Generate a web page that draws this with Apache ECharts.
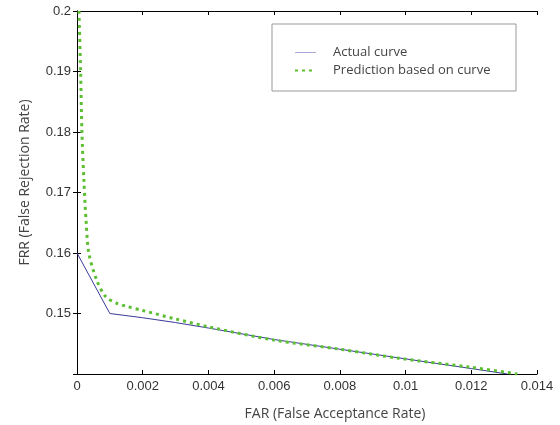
<!DOCTYPE html>
<html>
<head>
<meta charset="utf-8">
<script src="https://cdn.jsdelivr.net/npm/echarts@6/dist/echarts.min.js"></script>
<style>
  html, body { margin: 0; padding: 0; background: #fff; }
  #chart { width: 560px; height: 425px; }
</style>
</head>
<body>
<div id="chart"></div>
<script>
// actual FAR/FRR curve
const actualFar = [0, 0.001, 0.002, 0.003, 0.004, 0.006, 0.008, 0.01, 0.012, 0.0131];
const actualFrr = [0.16, 0.15, 0.1493, 0.1485, 0.1476, 0.1457, 0.1441, 0.1425, 0.1409, 0.14];

// prediction based on curve
const predFar = [0.00006, 0.00011, 0.00015, 0.00021, 0.00028, 0.00036, 0.0006, 0.00087, 0.0012,
  0.0015, 0.002, 0.003, 0.004, 0.006, 0.008, 0.0098, 0.012, 0.0134];
const predFrr = [0.2, 0.19, 0.18, 0.172, 0.165, 0.16, 0.1555, 0.1528, 0.1517,
  0.1512, 0.1505, 0.1491, 0.1478, 0.1456, 0.1441, 0.1426, 0.1411, 0.14];

const seriesNames = ["Actual curve", "Prediction based on curve"];

function pairs(xs, ys) {
  var out = [];
  for (var i = 0; i < xs.length; i++) out.push([xs[i], ys[i]]);
  return out;
}

const tickFont = { fontFamily: "Liberation Sans, Arial, sans-serif", fontSize: 13, color: "#333" };
const nameFont = { fontFamily: "Open Sans", fontSize: 14, color: "#444" };

const myChart = echarts.init(document.getElementById("chart"));
var option = {
  animation: false,
  grid: { left: 77, top: 11, right: 23, bottom: 51, containLabel: false, outerBoundsMode: "none" },
  graphic: [
    {
      type: "rect",
      shape: { x: 272, y: 24, width: 244, height: 67 },
      style: { fill: "#fff", stroke: "#999", lineWidth: 1 },
      z: 10,
    },
  ],
  legend: {
    orient: "vertical",
    left: 272,
    top: 24,
    padding: [22, 10, 10, 22],
    itemGap: 5,
    itemWidth: 21,
    itemHeight: 14,
    z: 11,
    itemStyle: { opacity: 0 },
    textStyle: { fontFamily: "Open Sans", fontSize: 13, color: "#444", padding: [0, 0, 0, 12] },
    data: [
      { name: seriesNames[0], lineStyle: { color: "#a9a9d6", width: 1 } },
      { name: seriesNames[1] },
    ],
  },
  xAxis: [
    {
      type: "value",
      min: 0,
      max: 0.014,
      interval: 0.002,
      name: "FAR (False Acceptance Rate)",
      nameLocation: "middle",
      nameGap: 33,
      nameTextStyle: Object.assign({ padding: [0, 0, 0, 56] }, nameFont),
      axisLine: { show: true, lineStyle: { color: "#000", width: 1 } },
      axisTick: { show: true, inside: true, length: 4, lineStyle: { color: "#000" } },
      axisLabel: Object.assign({ margin: 6 }, tickFont),
      splitLine: { show: false },
    },
    {
      type: "value",
      position: "top",
      min: 0,
      max: 0.014,
      interval: 0.002,
      axisLine: { show: true, lineStyle: { color: "#000", width: 1 } },
      axisTick: { show: true, inside: true, length: 4, lineStyle: { color: "#000" } },
      axisLabel: { show: false },
      splitLine: { show: false },
    },
  ],
  yAxis: [
    {
      type: "value",
      min: 0.14,
      max: 0.2,
      interval: 0.01,
      name: "FRR (False Rejection Rate)",
      nameLocation: "middle",
      nameGap: 45,
      nameTextStyle: Object.assign({ padding: [0, 0, 0, 20] }, nameFont),
      axisLine: { show: true, lineStyle: { color: "#000", width: 1 } },
      axisTick: { show: true, inside: true, length: 4, lineStyle: { color: "#000" } },
      axisLabel: Object.assign({
        margin: 6,
        formatter: function (v) { return v < 0.145 ? "" : String(+v.toFixed(3)); },
      }, tickFont),
      splitLine: { show: false },
    },
    {
      type: "value",
      position: "right",
      min: 0.14,
      max: 0.2,
      interval: 0.01,
      axisLine: { show: true, lineStyle: { color: "#000", width: 1 } },
      axisTick: { show: true, inside: true, length: 4, lineStyle: { color: "#000" } },
      axisLabel: { show: false },
      splitLine: { show: false },
    },
  ],
  series: [
    {
      name: seriesNames[0],
      type: "line",
      data: pairs(actualFar, actualFrr),
      showSymbol: false,
      symbol: "none",
      color: "#3a3a9a",
      lineStyle: { color: "#3a3a9a", width: 1 },
      z: 2,
    },
    {
      name: seriesNames[1],
      type: "line",
      smooth: 0.3,
      data: pairs(predFar, predFrr),
      showSymbol: false,
      symbol: "none",
      color: "#5cbf32",
      lineStyle: { color: "#5cbf32", width: 3, type: [3, 4] },
      z: 3,
    },
  ],
};
myChart.setOption(option);
</script>
</body>
</html>
